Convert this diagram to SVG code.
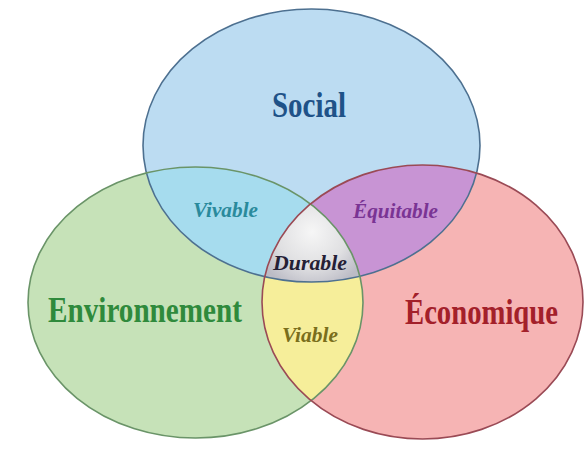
<svg xmlns="http://www.w3.org/2000/svg" xmlns:xlink="http://www.w3.org/1999/xlink" width="585" height="450" viewBox="0 0 585 450">
  <style>
    .big { font-family: "Liberation Serif", "Times New Roman", serif; font-weight: bold; font-size: 35px; }
    .small { font-family: "Liberation Serif", "Times New Roman", serif; font-weight: bold; font-style: italic; font-size: 21px; }
    .outline { fill: none; stroke-width: 1.6; }
  </style>
  <defs>
    <ellipse id="eb" cx="311.5" cy="145.5" rx="168.5" ry="136.5"/>
    <ellipse id="eg" cx="195.5" cy="302.5" rx="167.5" ry="135.5"/>
    <ellipse id="er" cx="422.5" cy="302" rx="160.5" ry="137"/>
    <clipPath id="cb"><use xlink:href="#eb"/></clipPath>
    <clipPath id="cg"><use xlink:href="#eg"/></clipPath>
    <clipPath id="cr"><use xlink:href="#er"/></clipPath>
    <radialGradient id="gd" gradientUnits="userSpaceOnUse" cx="312" cy="232" r="58">
      <stop offset="0" stop-color="#f6f6f6"/>
      <stop offset="0.6" stop-color="#e0e0e2"/>
      <stop offset="1" stop-color="#bcbcc6"/>
    </radialGradient>
  </defs>
  <rect width="585" height="450" fill="#ffffff"/>

  <g id="social">
    <use xlink:href="#eb" fill="#bcdcf2"/>
    <text class="big" x="272" y="117" fill="#1f5288" textLength="74" lengthAdjust="spacingAndGlyphs">Social</text>
  </g>
  <g id="environnement">
    <use xlink:href="#eg" fill="#c6e2b8"/>
    <text class="big" x="48" y="322" fill="#2f8a3c" textLength="194" lengthAdjust="spacingAndGlyphs">Environnement</text>
  </g>
  <g id="economique">
    <use xlink:href="#er" fill="#f6b4b4"/>
    <text class="big" transform="translate(405,324) scale(0.82,1)" x="0" y="0" fill="#a3202a" textLength="186.6" lengthAdjust="spacingAndGlyphs">Économique</text>
  </g>

  <g id="vivable">
    <g clip-path="url(#cb)"><use xlink:href="#eg" fill="#a6dcee"/></g>
  </g>
  <g id="equitable">
    <g clip-path="url(#cb)"><use xlink:href="#er" fill="#c894d4"/></g>
  </g>
  <g id="viable">
    <g clip-path="url(#cg)"><use xlink:href="#er" fill="#f6ee9a"/></g>
  </g>
  <g id="durable">
    <g clip-path="url(#cb)"><g clip-path="url(#cg)"><use xlink:href="#er" fill="url(#gd)"/></g></g>
  </g>

  <g id="outlines">
    <use xlink:href="#eb" class="outline" stroke="#4d7090"/>
    <use xlink:href="#eg" class="outline" stroke="#6a9468"/>
    <use xlink:href="#er" class="outline" stroke="#9a4a55"/>
  </g>

  <g id="labels">
    <text class="small" x="193" y="217" fill="#2a8a9c" textLength="65" lengthAdjust="spacingAndGlyphs">Vivable</text>
    <text class="small" x="353" y="218" fill="#7a3494" textLength="85" lengthAdjust="spacingAndGlyphs">Équitable</text>
    <text class="small" x="273" y="270" fill="#252035" textLength="74" lengthAdjust="spacingAndGlyphs">Durable</text>
    <text class="small" x="282" y="342" fill="#7a6e1c" textLength="56" lengthAdjust="spacingAndGlyphs">Viable</text>
  </g>
</svg>
